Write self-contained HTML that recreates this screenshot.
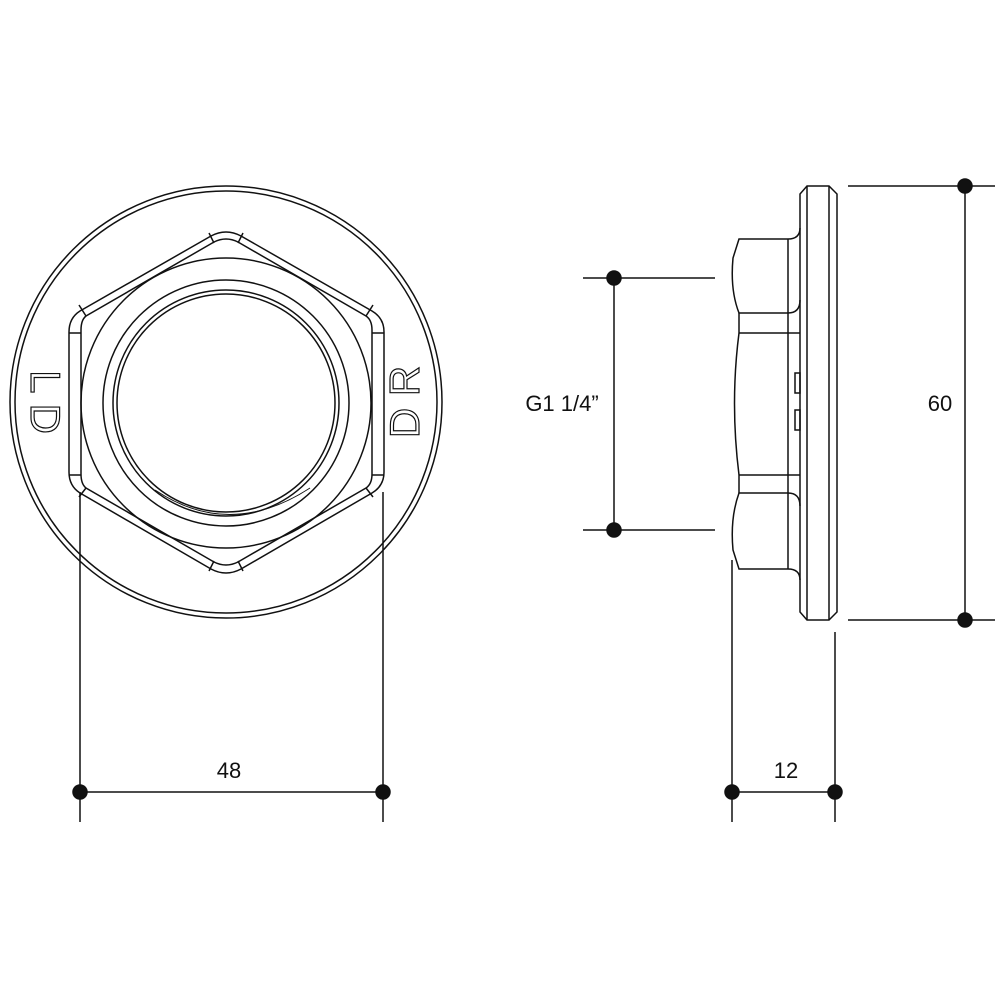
<!DOCTYPE html>
<html><head><style>body{margin:0;background:#fff}svg{display:block}</style></head><body>
<svg width="1000" height="1000" viewBox="0 0 1000 1000" xmlns="http://www.w3.org/2000/svg" fill="none" stroke="#111" stroke-width="1.5" font-family="Liberation Sans, sans-serif">
<circle cx="226" cy="402" r="216"/>
<circle cx="226" cy="402" r="211"/>
<path d="M211,236 Q226,228 241,236 L372,311 Q384,318 384,332 L384,472 Q384,486 372,493 L241,569 Q226,577 211,569 L80,493 Q69,486 69,472 L69,332 Q69,318 80,311 Z"/>
<path d="M214,242 Q226,236 238,242 L366,316 Q372,320 372,330 L372,474 Q372,484 366,488 L238,562 Q226,568 214,562 L86,488 Q81,484 81,474 L81,330 Q81,320 86,316 Z"/>
<line x1="69" y1="333" x2="81" y2="333"/><line x1="69" y1="475" x2="81" y2="475"/>
<line x1="372" y1="333" x2="384" y2="333"/><line x1="372" y1="475" x2="384" y2="475"/>
<line x1="209" y1="233" x2="214" y2="243"/><line x1="243" y1="233" x2="238" y2="243"/>
<line x1="209" y1="571" x2="214" y2="561"/><line x1="243" y1="571" x2="238" y2="561"/>
<line x1="86" y1="316" x2="79" y2="305"/><line x1="366" y1="316" x2="373" y2="305"/>
<line x1="86" y1="488" x2="79" y2="497"/><line x1="366" y1="488" x2="373" y2="497"/>
<circle cx="226" cy="403" r="145"/>
<circle cx="226" cy="403" r="123"/>
<circle cx="226" cy="403" r="113"/>
<circle cx="226" cy="403" r="109"/>
<path d="M155,490 Q230,540 310,488" stroke-width="1"/>
<text x="0" y="0" transform="translate(31,402) rotate(90)" text-anchor="middle" font-size="42" fill="#fff" stroke="#111" stroke-width="1.2">L D</text>
<text x="0" y="0" transform="translate(419,402) rotate(-90)" text-anchor="middle" font-size="42" fill="#fff" stroke="#111" stroke-width="1.2">D R</text>
<line x1="80" y1="492" x2="80" y2="822"/><line x1="383" y1="492" x2="383" y2="822"/>
<line x1="80" y1="792" x2="383" y2="792"/>
<circle cx="80" cy="792" r="7" fill="#111"/><circle cx="383" cy="792" r="7" fill="#111"/>
<text x="229" y="778" text-anchor="middle" font-size="22" fill="#111" stroke="none">48</text>
<path d="M807,186 L829,186 L837,194 L837,612 L829,620 L807,620 L800,612 L800,194 Z"/>
<line x1="807" y1="186" x2="807" y2="620"/><line x1="829" y1="186" x2="829" y2="620"/>
<path d="M800,228 Q800,239 788,239 L739,239 L733,258 Q730,290 739,313 L788,313 Q800,313 800,300"/>
<path d="M800,580 Q800,569 788,569 L739,569 L733,550 Q730,518 739,493 L788,493 Q800,493 800,506"/>
<path d="M739,313 L739,333 Q730,403 739,475 L739,493"/>
<line x1="739" y1="333" x2="800" y2="333"/><line x1="739" y1="475" x2="800" y2="475"/>
<line x1="788" y1="239" x2="788" y2="569"/>
<rect x="795" y="373" width="5" height="20"/><rect x="795" y="410" width="5" height="20"/>
<line x1="732" y1="560" x2="732" y2="822"/><line x1="835" y1="632" x2="835" y2="822"/>
<line x1="732" y1="792" x2="835" y2="792"/>
<circle cx="732" cy="792" r="7" fill="#111"/><circle cx="835" cy="792" r="7" fill="#111"/>
<text x="786" y="778" text-anchor="middle" font-size="22" fill="#111" stroke="none">12</text>
<line x1="848" y1="186" x2="995" y2="186"/><line x1="848" y1="620" x2="995" y2="620"/>
<line x1="965" y1="186" x2="965" y2="620"/>
<circle cx="965" cy="186" r="7" fill="#111"/><circle cx="965" cy="620" r="7" fill="#111"/>
<text x="940" y="411" text-anchor="middle" font-size="22" fill="#111" stroke="none">60</text>
<line x1="583" y1="278" x2="715" y2="278"/><line x1="583" y1="530" x2="715" y2="530"/>
<line x1="614" y1="278" x2="614" y2="530"/>
<circle cx="614" cy="278" r="7" fill="#111"/><circle cx="614" cy="530" r="7" fill="#111"/>
<text x="562" y="411" text-anchor="middle" font-size="22" fill="#111" stroke="none">G1 1/4”</text>
</svg>
</body></html>
